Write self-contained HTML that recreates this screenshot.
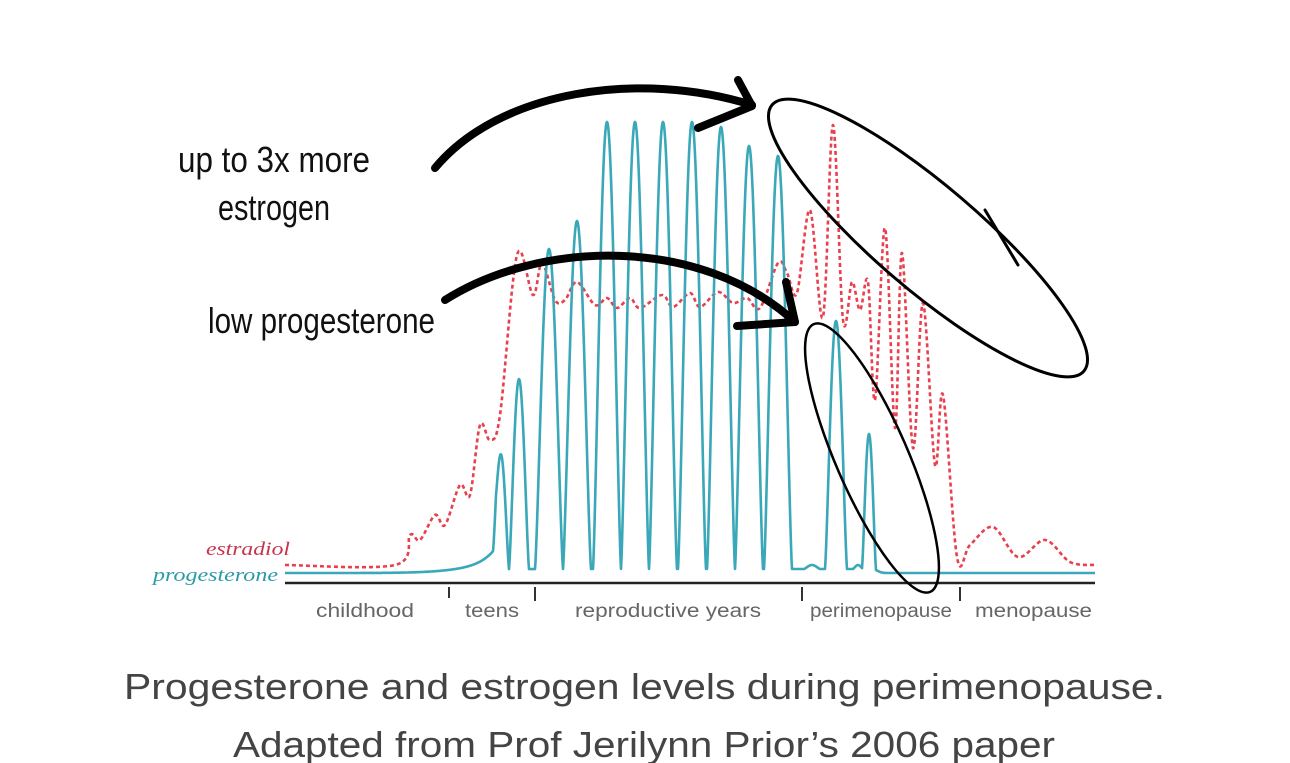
<!DOCTYPE html>
<html><head><meta charset="utf-8">
<style>
html,body{margin:0;padding:0;background:#fff;}
svg{display:block;}
</style></head>
<body>
<svg id="s" width="1290" height="763" viewBox="0 0 1290 763" xmlns="http://www.w3.org/2000/svg">
<rect width="1290" height="763" fill="#fff"/>
<path id="est" fill="none" stroke="#e8404e" stroke-width="2.6" stroke-dasharray="4,3"/>
<path id="pro" fill="none" stroke="#3aa8b8" stroke-width="2.6" stroke-linejoin="round"/>
<line x1="285" y1="583" x2="1095" y2="583" stroke="#222" stroke-width="2.5"/>
<g stroke="#333" stroke-width="2">
<line x1="449" y1="587" x2="449" y2="598"/>
<line x1="535" y1="587" x2="535" y2="601"/>
<line x1="802" y1="587" x2="802" y2="601"/>
<line x1="960" y1="587" x2="960" y2="601"/>
</g>
<g font-family="Liberation Sans, sans-serif" font-size="19" fill="#666">
<text x="316" y="617" textLength="98" lengthAdjust="spacingAndGlyphs">childhood</text>
<text x="465" y="617" textLength="54" lengthAdjust="spacingAndGlyphs">teens</text>
<text x="575" y="617" textLength="186" lengthAdjust="spacingAndGlyphs">reproductive years</text>
<text x="810" y="617" textLength="142" lengthAdjust="spacingAndGlyphs">perimenopause</text>
<text x="975" y="617" textLength="117" lengthAdjust="spacingAndGlyphs">menopause</text>
</g>
<g font-family="Liberation Serif, serif" font-style="italic" font-size="19">
<text x="206" y="555" fill="#c8334a" textLength="84" lengthAdjust="spacingAndGlyphs">estradiol</text>
<text x="153" y="581" fill="#2b9aa8" textLength="125" lengthAdjust="spacingAndGlyphs">progesterone</text>
</g>
<g font-family="Liberation Sans, sans-serif" font-size="36" fill="#111">
<text x="178" y="172" textLength="192" lengthAdjust="spacingAndGlyphs">up to 3x more</text>
<text x="218" y="220" textLength="112" lengthAdjust="spacingAndGlyphs">estrogen</text>
<text x="208" y="333" textLength="227" lengthAdjust="spacingAndGlyphs">low progesterone</text>
</g>
<g fill="none" stroke="#000" stroke-linecap="round">
<path d="M435,168 C500,90 640,70 752,105" stroke-width="8"/>
<path d="M738,80 L752,106 L698,128" stroke-width="8" stroke-linejoin="round"/>
<path d="M445,300 C540,240 700,235 795,322" stroke-width="8"/>
<path d="M786,282 L795,322 L737,326" stroke-width="8" stroke-linejoin="round"/>
<ellipse cx="928" cy="238" rx="205" ry="52" transform="rotate(40.5 928 238)" stroke-width="3"/>
<ellipse cx="872" cy="458" rx="146" ry="36" transform="rotate(66.5 872 458)" stroke-width="2.5"/>
<path d="M985,210 L1018,265" stroke-width="3"/>
</g>
<g font-family="Liberation Sans, sans-serif" font-size="36" fill="#444">
<text x="124" y="699" textLength="1041" lengthAdjust="spacingAndGlyphs">Progesterone and estrogen levels during perimenopause.</text>
<text x="233" y="757" textLength="822" lengthAdjust="spacingAndGlyphs">Adapted from Prof Jerilynn Prior’s 2006 paper</text>
</g>
</svg>
<script>
function cr(p){var d="M"+p[0][0]+","+p[0][1];for(var i=0;i<p.length-1;i++){var a=p[i-1]||p[i],b=p[i],c=p[i+1],e=p[i+2]||c;
d+=" C"+(b[0]+(c[0]-a[0])/6).toFixed(1)+","+(b[1]+(c[1]-a[1])/6).toFixed(1)+" "+(c[0]-(e[0]-b[0])/6).toFixed(1)+","+(c[1]-(e[1]-b[1])/6).toFixed(1)+" "+c[0]+","+c[1];}return d;}
var pk=[[501,458,8],[519,380,10],[549,250,14],[577,222,14],[607,123,14],[635,123,14],[663,123,14],[692,123,14],[721,128,14],[749,147,14],[778,157,14],[812,566,8],[836,322,11],[858,566,5],[869,435,7]];
var d="";
for(var x=285;x<=1095;x+=0.5){var y=0;
for(var k=0;k<pk.length;k++){var p=pk[k],h=570-p[1],dx=x-p[0];
if(Math.abs(dx)<p[2]){y+=h*Math.pow(Math.cos(Math.PI/2*dx/p[2]),1.3);}}
if(x<496)y+=22*Math.exp((x-496)/16);else y+=22*Math.exp(-(x-496)/2.5);
y+=4/(1+Math.exp((x-878)/2))*(1/(1+Math.exp(-(x-450)/20)))+1;
d+=(x==285?"M":"L")+x+","+(574-y).toFixed(1);}
document.getElementById("pro").setAttribute("d",d);
var est=[[285,565],[395,565],[410,535],[420,540],[435,515],[445,525],[460,485],[470,495],[480,425],[490,440],[500,415],[517,255],[533,295],[542,263],[555,300],[565,300],[577,282],[595,305],[607,298],[617,308],[630,298],[640,308],[662,295],[673,307],[690,293],[700,307],[718,292],[733,303],[747,298],[760,308],[778,263],[787,273],[797,293],[810,210],[823,317],[833,125],[843,320],[852,282],[860,310],[868,282],[875,400],[885,228],[895,428],[902,253],[913,448],[923,303],[935,465],[943,395],[957,557],[970,545],[993,527],[1018,557],[1045,540],[1070,562],[1095,565]];
document.getElementById("est").setAttribute("d",cr(est));
</script>
</body></html>
